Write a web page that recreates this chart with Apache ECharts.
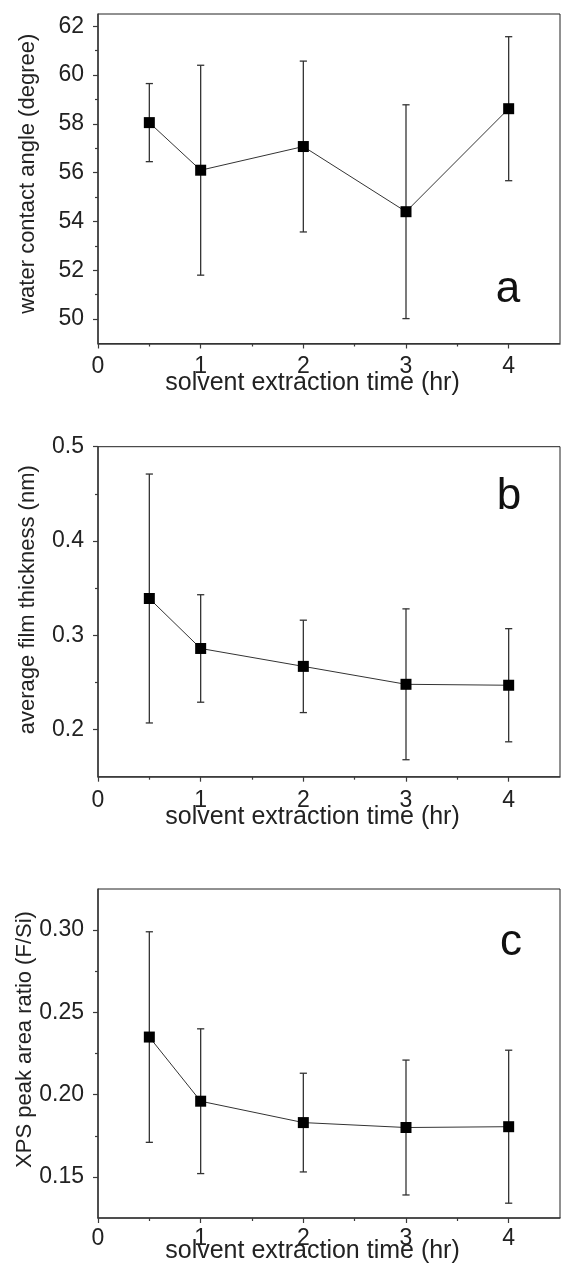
<!DOCTYPE html>
<html lang="en">
<head>
<meta charset="UTF-8">
<title>Solvent extraction time</title>
<script src="https://cdn.jsdelivr.net/npm/echarts@6/dist/echarts.min.js"></script>
<style>
  html, body { margin: 0; padding: 0; background: #fff; }
  #chart { width: 561px; height: 1264px; }
</style>
</head>
<body>
<div id="chart"></div>
<script>
// extraction time (hr)
var timeHr = [0.5, 1, 2, 3, 4];

// a: water contact angle (degree)
var angleMean = [58.05, 56.1, 57.07, 54.4, 58.62];
var angleErr = [1.6, 4.3, 3.5, 4.38, 2.95];

// b: average film thickness (nm)
var thickMean = [0.339, 0.286, 0.267, 0.248, 0.247];
var thickErr = [0.132, 0.057, 0.049, 0.080, 0.060];

// c: XPS peak area ratio (F/Si)
var xpsMean = [0.235, 0.196, 0.183, 0.180, 0.1805];
var xpsErr = [0.064, 0.044, 0.030, 0.041, 0.0465];

// ticks
var xMajor = [0, 1, 2, 3, 4];
var xMinor = [0.5, 1.5, 2.5, 3.5];
var angleMajor = [50, 52, 54, 56, 58, 60, 62];
var angleMinor = [51, 53, 55, 57, 59, 61];
var thickMajor = [0.2, 0.3, 0.4, 0.5];
var thickMinor = [0.25, 0.35, 0.45];
var xpsMajor = [0.15, 0.2, 0.25, 0.3];
var xpsMinor = [0.175, 0.225, 0.275];

var FONT = '"Liberation Sans", Arial, sans-serif';
var AXIS_COLOR = '#3a3a3a';

var panels = [
    { top: 14, height: 329.5, min: 49, max: 62.5, major: angleMajor, minor: angleMinor,
      mean: angleMean, err: angleErr, dec: 0, name: 'water contact angle (degree)', shift: 10, gap: 59,
      xGap: 27, xMargin: 12 },
    { top: 446.7, height: 330, min: 0.15, max: 0.5, major: thickMajor, minor: thickMinor,
      mean: thickMean, err: thickErr, dec: 1, name: 'average film thickness (nm)', shift: 24, gap: 59,
      xGap: 28, xMargin: 12 },
    { top: 889, height: 329, min: 0.125, max: 0.325, major: xpsMajor, minor: xpsMinor,
      mean: xpsMean, err: xpsErr, dec: 2, name: 'XPS peak area ratio (F/Si)', shift: 28, gap: 62,
      xGap: 21, xMargin: 9 }
];

function renderErrorBar(params, api) {
    var x = api.value(0);
    var hi = api.coord([x, api.value(2)]);
    var lo = api.coord([x, api.value(1)]);
    var half = 3.6;
    var st = { stroke: '#333', lineWidth: 1.3 };
    return {
        type: 'group',
        children: [
            { type: 'line', shape: { x1: hi[0], y1: hi[1], x2: lo[0], y2: lo[1] }, style: st },
            { type: 'line', shape: { x1: hi[0] - half, y1: hi[1], x2: hi[0] + half, y2: hi[1] }, style: st },
            { type: 'line', shape: { x1: lo[0] - half, y1: lo[1], x2: lo[0] + half, y2: lo[1] }, style: st }
        ]
    };
}

var grids = [], xAxes = [], yAxes = [], series = [];

panels.forEach(function (p, i) {
    grids.push({
        left: 98, right: 1, top: p.top, height: p.height,
        outerBoundsMode: 'none',
        show: true, borderColor: '#222', borderWidth: 1, backgroundColor: 'transparent'
    });

    // main x axis
    xAxes.push({
        gridIndex: i, type: 'value', position: 'bottom', min: 0, max: 4.5,
        name: 'solvent extraction time (hr)', nameLocation: 'middle', nameGap: p.xGap,
        nameMoveOverlap: false,
        nameTextStyle: { fontFamily: FONT, fontSize: 25, color: '#222', padding: [0, 33, 0, 0] },
        axisLine: { show: true, lineStyle: { color: AXIS_COLOR, width: 1.5 } },
        axisTick: { show: true, customValues: xMajor, length: 5, lineStyle: { color: AXIS_COLOR, width: 1.2 } },
        axisLabel: { customValues: xMajor, margin: p.xMargin, fontFamily: FONT, fontSize: 23, color: '#222' },
        splitLine: { show: false }
    });
    // minor x ticks
    xAxes.push({
        gridIndex: i, type: 'value', position: 'bottom', min: 0, max: 4.5,
        axisLine: { show: false },
        axisTick: { show: true, customValues: xMinor, length: 3, lineStyle: { color: AXIS_COLOR, width: 1.2 } },
        axisLabel: { show: false },
        splitLine: { show: false }
    });

    // main y axis
    yAxes.push({
        gridIndex: i, type: 'value', position: 'left', min: p.min, max: p.max,
        name: p.name, nameLocation: 'middle', nameGap: p.gap,
        nameMoveOverlap: false,
        nameTextStyle: { fontFamily: FONT, fontSize: 22, color: '#222', padding: [0, 0, 0, p.shift] },
        axisLine: { show: true, lineStyle: { color: AXIS_COLOR, width: 1.5 } },
        axisTick: { show: true, customValues: p.major, length: 5, lineStyle: { color: AXIS_COLOR, width: 1.2 } },
        axisLabel: {
            customValues: p.major, margin: 14, fontFamily: FONT, fontSize: 23, color: '#222',
            formatter: (function (d) { return function (v) { return Number(v).toFixed(d); }; })(p.dec)
        },
        splitLine: { show: false }
    });
    // minor y ticks
    yAxes.push({
        gridIndex: i, type: 'value', position: 'left', min: p.min, max: p.max,
        axisLine: { show: false },
        axisTick: { show: true, customValues: p.minor, length: 3, lineStyle: { color: AXIS_COLOR, width: 1.2 } },
        axisLabel: { show: false },
        splitLine: { show: false }
    });

    series.push({
        type: 'custom',
        xAxisIndex: 2 * i, yAxisIndex: 2 * i,
        renderItem: renderErrorBar,
        encode: { x: 0, y: [1, 2] },
        data: timeHr.map(function (t, k) { return [t, p.mean[k] - p.err[k], p.mean[k] + p.err[k]]; }),
        z: 2
    });
    series.push({
        type: 'line',
        xAxisIndex: 2 * i, yAxisIndex: 2 * i,
        data: timeHr.map(function (t, k) { return [t, p.mean[k]]; }),
        symbol: 'rect', symbolSize: 11,
        itemStyle: { color: '#000' },
        lineStyle: { color: '#333', width: 1 },
        z: 3
    });
});

var chart = echarts.init(document.getElementById('chart'));
chart.setOption({
    animation: false,
    grid: grids,
    xAxis: xAxes,
    yAxis: yAxes,
    series: series,
    graphic: [
        { type: 'text', x: 508, y: 290, style: { text: 'a', fontFamily: FONT, fontSize: 44, fill: '#111', align: 'center', verticalAlign: 'middle' } },
        { type: 'text', x: 509, y: 497, style: { text: 'b', fontFamily: FONT, fontSize: 44, fill: '#111', align: 'center', verticalAlign: 'middle' } },
        { type: 'text', x: 511, y: 943, style: { text: 'c', fontFamily: FONT, fontSize: 44, fill: '#111', align: 'center', verticalAlign: 'middle' } }
    ]
});
</script>
</body>
</html>
